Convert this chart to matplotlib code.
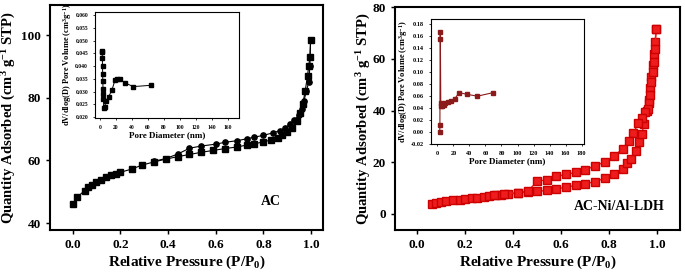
import matplotlib
matplotlib.use("Agg")
import matplotlib.pyplot as plt

plt.rcParams['font.family'] = ['Liberation Serif', 'DejaVu Serif']
plt.rcParams['font.weight'] = 'bold'
plt.rcParams['mathtext.fontset'] = 'custom'
plt.rcParams['mathtext.rm'] = 'Liberation Serif:bold'
plt.rcParams['mathtext.it'] = 'Liberation Serif:bold'
plt.rcParams['mathtext.bf'] = 'Liberation Serif:bold'

# AC isotherm
ac_ads_p = [0.0, 0.02, 0.05, 0.065, 0.08, 0.10, 0.12, 0.14, 0.16, 0.18, 0.20, 0.25, 0.29,
            0.34, 0.39, 0.44, 0.49, 0.54, 0.59, 0.64, 0.69, 0.73, 0.76, 0.80, 0.83, 0.86,
            0.88, 0.90, 0.92, 0.94, 0.955, 0.965, 0.975, 0.985, 0.99, 0.995, 0.998]
ac_ads_q = [46.0, 48.3, 50.4, 51.5, 52.3, 53.1, 53.9, 54.6, 55.2, 55.8, 56.2, 57.3, 58.5,
            59.5, 60.4, 61.2, 61.9, 62.6, 63.2, 63.8, 64.3, 64.9, 65.3, 65.9, 66.5, 67.3,
            68.0, 69.0, 70.5, 72.5, 75.0, 78.0, 82.0, 87.0, 90.0, 93.0, 98.5]
ac_des_p = [0.998, 0.995, 0.99, 0.98, 0.97, 0.96, 0.95, 0.93, 0.91, 0.89, 0.87, 0.84,
            0.80, 0.76, 0.73, 0.69, 0.64, 0.60, 0.54, 0.49, 0.44, 0.39, 0.34]
ac_des_q = [98.5, 90.0, 85.0, 82.0, 79.0, 76.5, 74.5, 73.0, 71.5, 70.3, 69.5, 68.8,
            68.0, 67.4, 66.9, 66.3, 65.8, 65.2, 64.6, 63.9, 62.0, 60.6, 59.7]

# AC pore size distribution
ac_d = [2.5, 3.0, 3.2, 3.4, 3.6, 3.8, 4.0, 4.2, 4.5, 5.0, 6.0, 8.0, 11, 15, 19, 22, 25, 31, 42, 64]
ac_v = [0.046, 0.0455, 0.043, 0.040, 0.037, 0.034, 0.031, 0.029, 0.027, 0.0235, 0.024,
        0.0265, 0.028, 0.0305, 0.0345, 0.035, 0.035, 0.0335, 0.032, 0.0325]

# AC-Ni/Al-LDH isotherm
ldh_ads_p = [0.06, 0.08, 0.10, 0.12, 0.15, 0.18, 0.20, 0.23, 0.25, 0.28, 0.30, 0.33, 0.35,
             0.38, 0.42, 0.46, 0.50, 0.54, 0.58, 0.62, 0.66, 0.70, 0.74, 0.78, 0.82,
             0.855, 0.875, 0.89, 0.91, 0.925, 0.935, 0.945, 0.955, 0.965, 0.97, 0.975,
             0.98, 0.985, 0.99, 0.995]
ldh_ads_q = [3.9, 4.3, 4.7, 5.0, 5.3, 5.6, 5.8, 6.1, 6.3, 6.6, 6.9, 7.2, 7.4,
             7.7, 8.1, 8.5, 8.8, 9.1, 9.8, 10.3, 11.1, 11.7, 12.5, 13.8, 15.5,
             17.4, 19.7, 21.3, 24.2, 28.0, 31.0, 35.0, 40.0, 44.0, 48.6, 52.9,
             57.7, 62.0, 66.6, 71.5]
ldh_des_p = [0.995, 0.99, 0.985, 0.98, 0.975, 0.97, 0.965, 0.96, 0.95, 0.935, 0.92, 0.90,
             0.88, 0.855, 0.82, 0.78, 0.74, 0.70, 0.66, 0.62, 0.58, 0.54, 0.50, 0.46,
             0.42, 0.36, 0.32]
ldh_des_q = [71.5, 64.0, 59.0, 55.0, 51.0, 46.0, 43.0, 40.5, 39.3, 37.0, 35.1, 31.3,
             28.1, 25.3, 22.3, 20.1, 18.6, 17.1, 16.1, 15.3, 14.6, 13.3, 12.6, 8.8,
             8.3, 7.7, 7.2]

# AC-Ni/Al-LDH pore size distribution
ldh_d = [2.9, 3.1, 3.5, 3.7, 4.2, 5.0, 6.0, 8.0, 10, 13, 17, 22, 27, 37, 50, 70]
ldh_v = [0.0, 0.011, 0.167, 0.155, 0.049, 0.043, 0.044, 0.046, 0.048, 0.050, 0.052,
         0.056, 0.066, 0.063, 0.060, 0.066]

W, H = 685, 273


def box(l, r, t, b):
    return [l / W, (H - b) / H, (r - l) / W, (b - t) / H]


def style(ax, lw=1.5, size=9, ticklen=3):
    for s in ax.spines.values():
        s.set_linewidth(lw)
    ax.tick_params(labelsize=size, width=lw * 0.7, length=ticklen, direction='out')
    for lab in ax.get_xticklabels() + ax.get_yticklabels():
        lab.set_fontweight('bold')


fig = plt.figure(figsize=(6.85, 2.73), dpi=100)

red = '#ee1c1c'
dred = '#8b1a1a'

# left main
ax1 = fig.add_axes(box(50, 323, 5, 230))
ax1.plot(ac_ads_p, ac_ads_q, '-s', color='black', ms=3.8, lw=0.8)
ax1.plot(ac_des_p, ac_des_q, '-o', color='black', ms=3.8, lw=0.8)
ax1.set_xlim(-0.095, 1.05)
ax1.set_ylim(37.8, 109.6)
ax1.set_xticks([0.0, 0.2, 0.4, 0.6, 0.8, 1.0])
ax1.set_yticks([40, 60, 80, 100])
style(ax1, size=9.5)
ax1.set_xlabel('Relative Pressure (P/P$_0$)', fontsize=11, fontweight='bold', labelpad=2)
ax1.set_ylabel('Quantity Adsorbed (cm$^3$ g$^{-1}$ STP)', fontsize=10.5, fontweight='bold', labelpad=2)
ax1.text(0.83, 47, 'AC', fontsize=10, fontweight='bold', ha='center', va='center')

# left inset
ins1 = fig.add_axes(box(95, 239, 12, 118))
ins1.plot(ac_d, ac_v, '-s', color='black', ms=2.2, lw=0.7)
ins1.set_xlim(-6, 174)
ins1.set_ylim(0.0197, 0.0612)
ins1.set_xticks(range(0, 161, 20))
ins1.set_yticks([0.020, 0.025, 0.030, 0.035, 0.040, 0.045, 0.050, 0.055, 0.060])
ins1.set_yticklabels(['%.3f' % v for v in ins1.get_yticks()])
style(ins1, lw=0.8, size=4, ticklen=1.5)
ins1.set_xlabel('Pore Diameter (nm)', fontsize=6.5, fontweight='bold', labelpad=1)
ins1.set_ylabel('dV/dlog(D) Pore Volume (cm$^3$g$^{-1}$)', fontsize=6, fontweight='bold', labelpad=1)

# right main
ax2 = fig.add_axes(box(395, 680, 7, 230))
ax2.plot(ldh_ads_p, ldh_ads_q, '-s', color=red, mec='#cc0000', ms=5.5, lw=1.0)
ax2.plot(ldh_des_p, ldh_des_q, '-s', color=red, mec='#cc0000', ms=5.5, lw=1.0)
ax2.set_xlim(-0.092, 1.094)
ax2.set_ylim(-6.2, 80.1)
ax2.set_xticks([0.0, 0.2, 0.4, 0.6, 0.8, 1.0])
ax2.set_yticks([0, 20, 40, 60, 80])
style(ax2, size=9.5)
ax2.set_xlabel('Relative Pressure (P/P$_0$)', fontsize=11, fontweight='bold', labelpad=2)
ax2.set_ylabel('Quantity Adsorbed (cm$^3$ g$^{-1}$ STP)', fontsize=10.5, fontweight='bold', labelpad=0)
ax2.text(0.84, 3, 'AC-Ni/Al-LDH', fontsize=10, fontweight='bold', ha='center', va='center')

# right inset
ins2 = fig.add_axes(box(431, 584, 19, 144))
ins2.plot(ldh_d, ldh_v, '-s', color=dred, ms=2.2, lw=0.8)
ins2.set_xlim(-8, 183)
ins2.set_ylim(-0.02, 0.189)
ins2.set_xticks(range(0, 181, 20))
ins2.set_yticks([-0.02, 0.0, 0.02, 0.04, 0.06, 0.08, 0.10, 0.12, 0.14, 0.16, 0.18])
ins2.set_yticklabels(['%.2f' % v for v in ins2.get_yticks()])
style(ins2, lw=0.8, size=4.5, ticklen=1.5)
ins2.set_xlabel('Pore Diameter (nm)', fontsize=6.5, fontweight='bold', labelpad=1)
ins2.set_ylabel('dV/dlog(D) Pore Volume (cm$^3$g$^{-1}$)', fontsize=6, fontweight='bold', labelpad=1)

fig.savefig('out.png', dpi=100)
